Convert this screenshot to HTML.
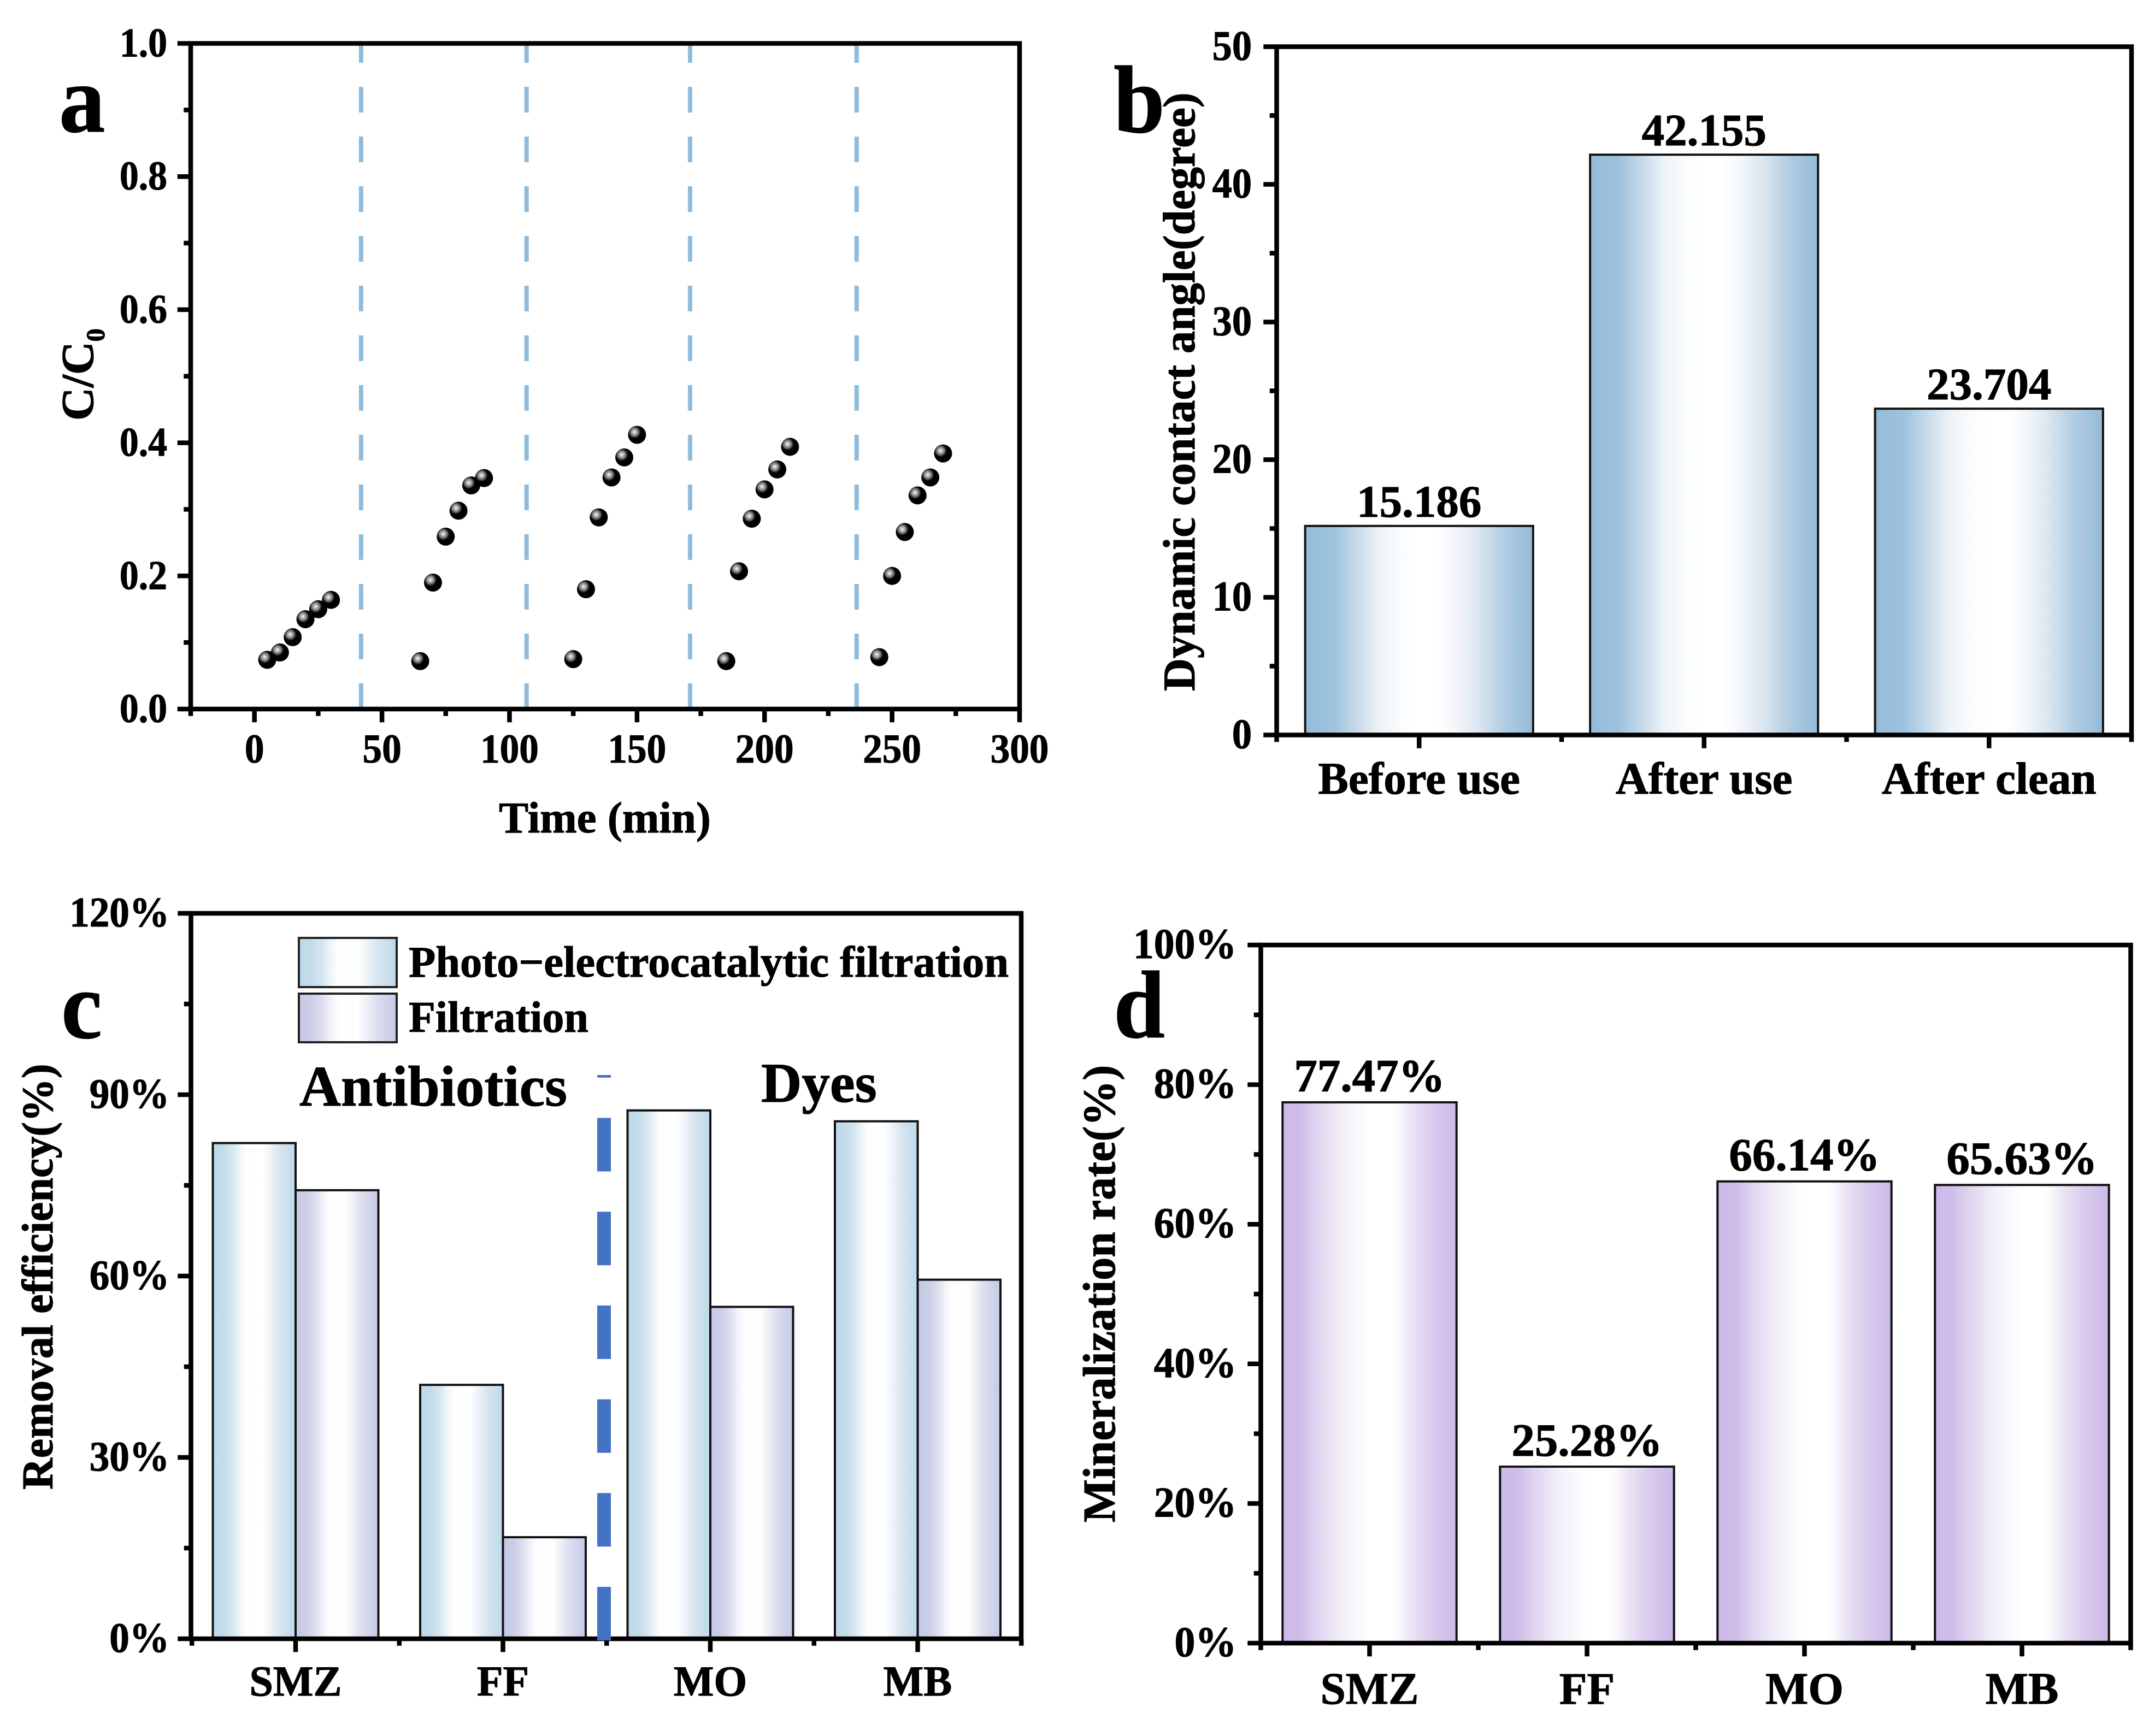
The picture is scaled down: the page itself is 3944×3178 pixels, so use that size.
<!DOCTYPE html>
<html lang="en">
<head>
<meta charset="utf-8">
<title>Four panel performance chart</title>
<style>
html,body{margin:0;padding:0;background:#fff}
svg{display:block}
text{font-family:"Liberation Serif",serif;font-weight:700;fill:#000;stroke:#000;stroke-width:1.1}
</style>
</head>
<body>
<svg id="figure" xmlns="http://www.w3.org/2000/svg" width="3944" height="3178" viewBox="0 0 3944 3178">
<defs>
<linearGradient id="gradB" x1="0" x2="1" y1="0" y2="0">
<stop offset="0" stop-color="#93bbd9"/><stop offset=".13" stop-color="#9fc3dd"/><stop offset=".25" stop-color="#cfdfec"/><stop offset=".32" stop-color="#ebf2f7"/><stop offset=".42" stop-color="#fafcfd"/><stop offset=".5" stop-color="#fff"/><stop offset=".58" stop-color="#fff"/><stop offset=".66" stop-color="#f3f6fa"/><stop offset=".76" stop-color="#dae6f0"/><stop offset=".87" stop-color="#b3cde2"/><stop offset="1" stop-color="#93bbd9"/>
</linearGradient>
<linearGradient id="gradPhoto" x1="0" x2="1" y1="0" y2="0">
<stop offset="0" stop-color="#bcd9ea"/><stop offset=".13" stop-color="#c4dcea"/><stop offset=".25" stop-color="#d8e8f2"/><stop offset=".33" stop-color="#f0f6fa"/><stop offset=".4" stop-color="#fdfeff"/><stop offset=".6" stop-color="#fff"/><stop offset=".7" stop-color="#edf3f8"/><stop offset=".8" stop-color="#d8e6f0"/><stop offset="1" stop-color="#bcd9ea"/>
</linearGradient>
<linearGradient id="gradFilter" x1="0" x2="1" y1="0" y2="0">
<stop offset="0" stop-color="#c5c9e6"/><stop offset=".13" stop-color="#cbcee7"/><stop offset=".25" stop-color="#dfe0f0"/><stop offset=".33" stop-color="#f2f2f9"/><stop offset=".4" stop-color="#fdfdff"/><stop offset=".6" stop-color="#fff"/><stop offset=".7" stop-color="#eeeff7"/><stop offset=".8" stop-color="#dcddef"/><stop offset="1" stop-color="#c5c9e6"/>
</linearGradient>
<linearGradient id="gradD" x1="0" x2="1" y1="0" y2="0">
<stop offset="0" stop-color="#cdb9ea"/><stop offset=".1" stop-color="#cfbde8"/><stop offset=".2" stop-color="#dfd5f0"/><stop offset=".33" stop-color="#f1eef8"/><stop offset=".45" stop-color="#fbfafd"/><stop offset=".5" stop-color="#fff"/><stop offset=".62" stop-color="#fff"/><stop offset=".66" stop-color="#fbfafd"/><stop offset=".73" stop-color="#ece6f5"/><stop offset=".85" stop-color="#dacdee"/><stop offset="1" stop-color="#ccb9e8"/>
</linearGradient>
<radialGradient id="ball" cx=".36" cy=".35" r=".36">
<stop offset="0" stop-color="#fff"/><stop offset=".22" stop-color="#c8c8c8"/><stop offset=".6" stop-color="#777"/><stop offset=".9" stop-color="#111"/><stop offset="1" stop-color="#000"/>
</radialGradient>
</defs>
<g id="panelA"></g>
<g id="panelB"></g>
<g id="panelC"></g>
<g id="panelD"></g>
</svg>
<script>
/* ---------- panel a data ---------- */
const aTimes = [
  [5,10,15,20,25,30],
  [65,70,75,80,85,90],
  [125,130,135,140,145,150],
  [185,190,195,200,205,210],
  [245,250,255,260,265,270]
];
const aValues = [
  [0.074,0.085,0.108,0.135,0.150,0.164],
  [0.072,0.190,0.259,0.298,0.336,0.347],
  [0.075,0.180,0.288,0.348,0.378,0.412],
  [0.072,0.207,0.286,0.330,0.360,0.394],
  [0.078,0.200,0.266,0.321,0.348,0.384]
];
const aDividers = [41.8,106.7,170.8,236.1];
const aXMajor = [0,50,100,150,200,250,300];
const aXMinor = [-25,25,75,125,175,225,275];
const aYMajor = [0,0.2,0.4,0.6,0.8,1.0];
const aYMinor = [0.1,0.3,0.5,0.7,0.9];
/* ---------- panel b data ---------- */
const bCategories = ["Before use","After use","After clean"];
const bValues = [15.186,42.155,23.704];
const bLabels = ["15.186","42.155","23.704"];
const bYMajor = [0,10,20,30,40,50];
const bYMinor = [5,15,25,35,45];
/* ---------- panel c data ---------- */
const cCategories = ["SMZ","FF","MO","MB"];
const cPhoto = [82,42,87.4,85.6];
const cFiltration = [74.2,16.8,54.9,59.4];
const cYMajor = [0,30,60,90,120];
const cYMinor = [15,45,75,105];
/* ---------- panel d data ---------- */
const dCategories = ["SMZ","FF","MO","MB"];
const dValues = [77.47,25.28,66.14,65.63];
const dLabels = ["77.47%","25.28%","66.14%","65.63%"];
const dYMajor = [0,20,40,60,80,100];
const dYMinor = [10,30,50,70,90];

const NS = "http://www.w3.org/2000/svg";
function mk(parent, tag, attrs, txt){
  const el = document.createElementNS(NS, tag);
  for (const k in attrs) el.setAttribute(k, attrs[k]);
  if (txt !== undefined) el.textContent = txt;
  parent.appendChild(el);
  return el;
}
function linear(d0,d1,r0,r1){ return v => r0 + (v-d0)*(r1-r0)/(d1-d0); }

const TICK_W = 8.5, MAJOR = 20, MINOR = 8.5, FRAME_W = 8.5;

function drawFrame(g, b){
  const el = mk(g,'rect',{x:b.l,y:b.t,width:b.r-b.l,height:b.b-b.t,fill:'none',stroke:'#000','stroke-width':FRAME_W});
  
  
}
function yTick(g,b,py,len){
  const el = mk(g,'line',{x1:b.l,x2:b.l-FRAME_W/2-len,y1:py,y2:py,stroke:'#000','stroke-width':TICK_W});
  
  
}
function xTick(g,b,px,len){
  const el = mk(g,'line',{x1:px,x2:px,y1:b.b,y2:b.b+FRAME_W/2+len,stroke:'#000','stroke-width':TICK_W});
  
  
}
function drawYAxis(g,b,ys,major,minor,fmt,size,sx,right){
  major.forEach(v=>{
    yTick(g,b,ys(v),MAJOR);
    const t = mk(g,'text',{transform:`translate(${right},${ys(v)+24}) scale(${sx},1)`,'text-anchor':'end','font-size':size},fmt(v));
    
    
  });
  minor.forEach(v=>yTick(g,b,ys(v),MINOR));
}
function drawCategoryAxis(g,b,xs,cats,size,base){
  cats.forEach((c,i)=>{
    xTick(g,b,xs(i+1),MAJOR);
    const t = mk(g,'text',{x:xs(i+1),y:base,'text-anchor':'middle','font-size':size},c);
    
    
  });
  for(let i=0;i<=cats.length;i++) xTick(g,b,xs(i+0.5),MINOR);
}
function yTitle(g,x,y,size,str){
  const t = mk(g,'text',{transform:`translate(${x},${y}) rotate(-90)`,'font-size':size},str);
  
  
  return t;
}
function panelLetter(g,x,y,str){
  const t = mk(g,'text',{transform:`translate(${x},${y}) scale(.96,1)`,'font-size':176},str);
  
  
}
function bar(g,x0,x1,y0,y1,fill,sw){
  const el = mk(g,'rect',{x:x0,y:y1,width:x1-x0,height:y0-y1,fill:'url(#'+fill+')',stroke:'#111','stroke-width':sw});
  return el;
}
function valueLabel(g,x,y,str,size){
  const t = mk(g,'text',{x:x,y:y,'text-anchor':'middle','font-size':size},str);
  
  
}

/* ---------- panel a ---------- */
(function(){
  const g = document.getElementById('panelA');
  const box = {l:349,r:1866,t:79.5,b:1298};
  const xs = linear(-25,300,box.l,box.r);
  const ys = linear(0,1,box.b,box.t);
  aDividers.forEach(v=>{
    const l = mk(g,'line',{x1:xs(v),x2:xs(v),y1:box.b,y2:box.t,stroke:'#8fbcdb','stroke-width':8,'stroke-dasharray':'47 44'});
    
    
  });
  aTimes.forEach((times,s)=>{
    times.forEach((tv,i)=>{
      const c = mk(g,'circle',{cx:xs(tv),cy:ys(aValues[s][i]),r:16.5,fill:'url(#ball)'});
      
      
    });
  });
  drawFrame(g,box);
  drawYAxis(g,box,ys,aYMajor,aYMinor,v=>v.toFixed(1),75,.93,306);
  aXMajor.forEach(v=>{
    xTick(g,box,xs(v),MAJOR);
    const t = mk(g,'text',{transform:`translate(${xs(v)},1396) scale(.95,1)`,'text-anchor':'middle','font-size':75},String(v));
    
    
  });
  aXMinor.forEach(v=>xTick(g,box,xs(v),MINOR));
  const xt = mk(g,'text',{x:1107,y:1524,'text-anchor':'middle','font-size':81},'Time (min)');
  
  
  const yt = yTitle(g,170,770,84,'C/C');
  const sub = mk(yt,'tspan',{dy:21,'font-size':48},'0');
  
  
  panelLetter(g,108,241,'a');
})();

/* ---------- panel b ---------- */
(function(){
  const g = document.getElementById('panelB');
  const box = {l:2336.5,r:3901,t:85.5,b:1345.5};
  const xs = linear(0.5,3.5,box.l,box.r);
  const ys = linear(0,50,box.b,box.t);
  const half = (xs(1.4)-xs(1));
  bValues.forEach((v,i)=>{
    const el = bar(g,xs(i+1)-half,xs(i+1)+half,ys(0),ys(v),'gradB',4);
    
    
    valueLabel(g,xs(i+1),ys(v)-17,bLabels[i],83);
  });
  drawFrame(g,box);
  drawYAxis(g,box,ys,bYMajor,bYMinor,v=>String(v),77,.94,2291);
  drawCategoryAxis(g,box,xs,bCategories,83,1453);
  yTitle(g,2186,1265,83,'Dynamic contact angle(degree)');
  panelLetter(g,2038,242,'b');
})();

/* ---------- panel c ---------- */
(function(){
  const g = document.getElementById('panelC');
  const box = {l:349.5,r:1869,t:1672,b:3000};
  const xs = linear(1,4,541,1679.5);
  const ys = linear(0,120,box.b,box.t);
  const w = 151.5;
  cCategories.forEach((c,i)=>{
    const cx = xs(i+1);
    const a = bar(g,cx-w,cx,ys(0),ys(cPhoto[i]),'gradPhoto',4);
    
    
    const f = bar(g,cx,cx+w,ys(0),ys(cFiltration[i]),'gradFilter',4);
    
    
  });
  drawFrame(g,box);
  drawYAxis(g,box,ys,cYMajor,cYMinor,v=>v+'%',77,.95,310);
  drawCategoryAxis(g,box,xs,cCategories,78,3104);
  const sep = mk(g,'line',{x1:1105.5,x2:1105.5,y1:3003,y2:1968,stroke:'#4472c4','stroke-width':25,'stroke-dasharray':'98 73.7'});
  
  
  yTitle(g,96,2727,80,'Removal efficiency(%)');
  panelLetter(g,112,1900,'c');

  const s1 = mk(g,'rect',{x:547,y:1717,width:179,height:90,fill:'url(#gradPhoto)',stroke:'#222','stroke-width':4});
  
  
  const s2 = mk(g,'rect',{x:547,y:1819,width:179,height:89,fill:'url(#gradFilter)',stroke:'#222','stroke-width':4});
  
  
  const l1 = mk(g,'text',{x:748,y:1788,'font-size':80,textLength:1098,lengthAdjust:'spacingAndGlyphs'},'Photo\u2212electrocatalytic filtration');
  
  
  const l2 = mk(g,'text',{x:748,y:1889,'font-size':80},'Filtration');
  
  
  const a1 = mk(g,'text',{x:548,y:2024,'font-size':105},'Antibiotics');
  
  
  const a2 = mk(g,'text',{x:1393,y:2017,'font-size':103},'Dyes');
  
  
})();

/* ---------- panel d ---------- */
(function(){
  const g = document.getElementById('panelD');
  const box = {l:2307.5,r:3899.5,t:1730,b:3008};
  const xs = linear(0.5,4.5,box.l,box.r);
  const ys = linear(0,100,box.b,box.t);
  const half = xs(1.4)-xs(1);
  dValues.forEach((v,i)=>{
    const el = bar(g,xs(i+1)-half,xs(i+1)+half,ys(0),ys(v),'gradD',4);
    
    
    valueLabel(g,xs(i+1),ys(v)-20,dLabels[i],85);
  });
  drawFrame(g,box);
  drawYAxis(g,box,ys,dYMajor,dYMinor,v=>v+'%',78,.97,2263);
  drawCategoryAxis(g,box,xs,dCategories,83,3119);
  yTitle(g,2040,2787,84,'Mineralization rate(%)');
  panelLetter(g,2038,1899,'d');
})();
</script>
</body>
</html>
